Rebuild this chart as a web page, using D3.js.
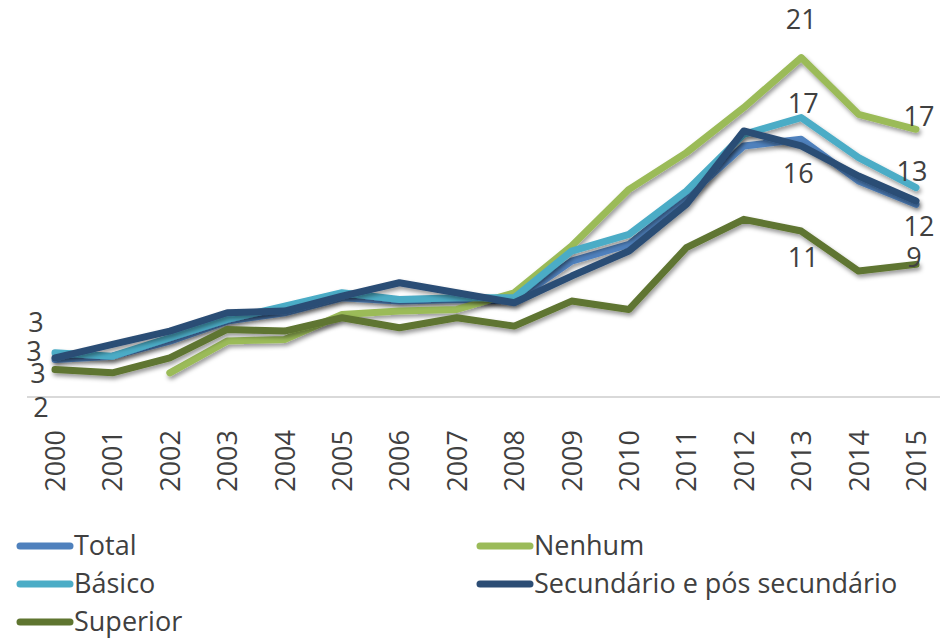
<!DOCTYPE html>
<html>
<head>
<meta charset="utf-8">
<script src="https://cdnjs.cloudflare.com/ajax/libs/d3/7.8.5/d3.min.js"></script>
<style>
  body { margin: 0; background: #fff; }
  svg { display: block; font-family: "Open Sans", sans-serif; }
</style>
</head>
<body>
<div id="chart"></div>
<script>
var years = ["2000","2001","2002","2003","2004","2005","2006","2007","2008","2009","2010","2011","2012","2013","2014","2015"];

var seriesNames = ["Total", "Nenhum", "Básico", "Secundário e pós secundário", "Superior"];

var total      = [2.9, 3.1, 4.0, 5.2, 5.7, 6.6, 6.4, 6.5, 6.4, 8.8, 9.8, 12.6, 15.7, 16.1, 13.6, 12.2];
var nenhum     = [null, null, 2.1, 4.0, 4.1, 5.6, 5.8, 5.9, 6.9, 9.7, 13.1, 15.3, 18.0, 21.0, 17.6, 16.7];
var basico     = [3.3, 3.1, 4.2, 5.3, 6.1, 6.9, 6.5, 6.6, 6.6, 9.4, 10.4, 13.0, 16.4, 17.4, 15.0, 13.2];
var secundario = [3.0, 3.8, 4.6, 5.7, 5.8, 6.7, 7.5, 6.9, 6.3, 7.9, 9.4, 12.2, 16.6, 15.7, 13.9, 12.4];
var superior   = [2.3, 2.1, 3.0, 4.7, 4.6, 5.4, 4.8, 5.4, 4.9, 6.4, 5.9, 9.6, 11.3, 10.6, 8.2, 8.6];

// data labels shown in the chart: series index, year, text
var labelSeries = [3, 2, 0, 4, 1, 2, 0, 4, 1, 2, 0, 4];
var labelYears  = ["2000","2000","2000","2000","2013","2013","2013","2013","2015","2015","2015","2015"];
var labelTexts  = ["3", "3", "3", "2", "21", "17", "16", "11", "17", "13", "12", "9"];

var colors = ["#4F81BD", "#9BBB59", "#4BACC6", "#2C4D75", "#5F7530"];

var width = 946, height = 639;
var allSeries = [total, nenhum, basico, secundario, superior];

var svg = d3.select("#chart").append("svg")
    .attr("width", width)
    .attr("height", height);

var defs = svg.append("defs");
var shadow = defs.append("filter")
    .attr("id", "shadow")
    .attr("x", "-10%").attr("y", "-10%")
    .attr("width", "120%").attr("height", "130%");
shadow.append("feDropShadow")
    .attr("dx", 1.5).attr("dy", 3)
    .attr("stdDeviation", 2)
    .attr("flood-color", "#000")
    .attr("flood-opacity", 0.4);

var x = d3.scalePoint().domain(years).range([55, 916]);
var y = d3.scaleLinear().domain([0.65, 24.45]).range([397, 0]);

// baseline gridline
svg.append("line")
    .attr("x1", 27).attr("x2", 940)
    .attr("y1", y(0.65)).attr("y2", y(0.65))
    .attr("stroke", "#D9D9D9")
    .attr("stroke-width", 2);

// x axis: rotated year labels
var xAxis = d3.axisBottom(x).tickSize(0).tickPadding(0);
var axisG = svg.append("g")
    .attr("transform", "translate(0," + (y(0.65) + 33) + ")")
    .call(xAxis);
axisG.select(".domain").remove();
axisG.selectAll("text")
    .attr("font-family", "Open Sans, sans-serif")
    .attr("font-size", 27)
    .attr("fill", "#404040")
    .attr("transform", "rotate(-90)")
    .attr("text-anchor", "end")
    .attr("x", 0)
    .attr("y", 0)
    .attr("dy", "0.35em");

var line = d3.line()
    .defined(function(d) { return d != null; })
    .x(function(d, i) { return x(years[i]); })
    .y(function(d) { return y(d); });

svg.append("g").selectAll("path")
    .data(allSeries)
    .enter().append("path")
    .attr("d", line)
    .attr("fill", "none")
    .attr("stroke", function(d, i) { return colors[i]; })
    .attr("stroke-width", 7)
    .attr("stroke-linejoin", "round")
    .attr("stroke-linecap", "round")
    .attr("filter", "url(#shadow)");

// label offsets from their point (pixels)
var labelOffsets = [
    [-19, -35], [-21, -1], [-17, 14], [-14, 38],
    [0, -38], [2, -14], [-3, 34], [2, 27],
    [3, -13], [-4, -16], [3, 22], [-2, -7]
];

svg.append("g").selectAll("text")
    .data(labelTexts)
    .enter().append("text")
    .attr("x", function(d, i) { return x(labelYears[i]) + labelOffsets[i][0]; })
    .attr("y", function(d, i) {
        var s = allSeries[labelSeries[i]];
        return y(s[years.indexOf(labelYears[i])]) + labelOffsets[i][1];
    })
    .attr("dy", "0.35em")
    .attr("text-anchor", "middle")
    .attr("font-size", 27)
    .attr("fill", "#404040")
    .text(function(d) { return d; });

// legend
var legendPos = [[18, 546], [478, 546], [18, 584], [478, 584], [18, 622]];
var legend = svg.append("g").selectAll("g")
    .data(seriesNames)
    .enter().append("g")
    .attr("transform", function(d, i) { return "translate(" + legendPos[i][0] + "," + legendPos[i][1] + ")"; });

legend.append("line")
    .attr("x1", 2).attr("x2", 52)
    .attr("y1", 0).attr("y2", 0)
    .attr("stroke", function(d, i) { return colors[i]; })
    .attr("stroke-width", 7)
    .attr("stroke-linecap", "round");

legend.append("text")
    .attr("x", 56)
    .attr("y", 0)
    .attr("dy", "0.35em")
    .attr("font-size", 27)
    .attr("fill", "#404040")
    .text(function(d) { return d; });
</script>
</body>
</html>
